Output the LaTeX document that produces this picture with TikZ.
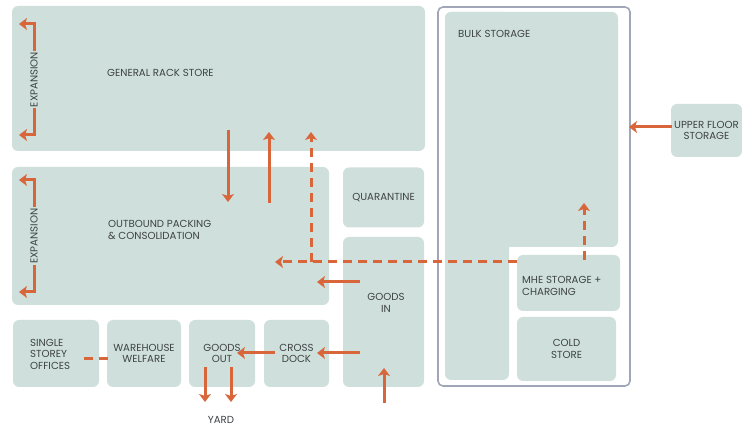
\documentclass[tikz,border=0pt]{standalone}
\usepackage{fontspec}
\setmainfont{Poppins}
\usetikzlibrary{arrows.meta, positioning, backgrounds}
\definecolor{zonefill}{RGB}{207,224,220}
\definecolor{flowred}{RGB}{217,101,58}
\definecolor{framegray}{RGB}{160,166,184}
\definecolor{labelgray}{RGB}{62,66,68}

\begin{document}
\begin{tikzpicture}[
    x = 1pt, y = -1pt,
    every node/.style = {font=\fontsize{10.2}{11.5}\selectfont, text=labelgray},
    zone/.style 2 args = {fill=zonefill, rounded corners=6pt, inner sep=0pt,
                          align=center, minimum width=#1, minimum height=#2},
    tag/.style        = {anchor=west, align=left, inner sep=0pt},
    flow/.style       = {-{Stealth[length=8pt, width=12pt, inset=2pt]},
                         flowred, line width=3pt},
    twoway/.style     = {flow, {Stealth[length=8pt, width=12pt, inset=2pt]}-{Stealth[length=8pt, width=12pt, inset=2pt]}},
    dflow/.style      = {flow, dash pattern=on 9pt off 6pt},
]
\useasboundingbox (0,0) rectangle (742,427);

% Main floor zones
\node[zone={413}{145}] (rack) at (218.5,78.5) {};
\node[tag] (rackT) at (107,73) {GENERAL RACK STORE};
\node[zone={317}{138}] (opc) at (170.5,236) {};
\node[tag] (opcT) at (108,230) {OUTBOUND PACKING\\\& CONSOLIDATION};
\node[zone={81}{60}] (quar) at (383.5,197.5) {QUARANTINE};
\node[zone={81}{150}] (gin) at (383.5,312) {};
\node[align=center, inner sep=0pt] (ginT) at (386,303) {GOODS\\IN};

% Bottom row
\node[zone={86}{67}] (offices) at (56,353.5) {};
\node[tag] (officesT) at (30,354) {SINGLE\\STOREY\\OFFICES};
\node[zone={74}{67}] (welfare) at (144,353.5) {WAREHOUSE\\WELFARE};
\node[zone={66}{67}] (gout) at (222,353.5) {GOODS\\OUT};
\node[zone={65}{67}] (xdock) at (296.5,353.5) {CROSS\\DOCK};
\node[inner sep=0pt] (yard) at (221,420) {YARD};

% High bay block
\node[draw=framegray, line width=1.6pt, rounded corners=5pt,
      minimum width=192, minimum height=379] (site) at (534,196.5) {};
\node[zone={173}{235}] (bulk) at (531.5,129.5) {};
\node[zone={64}{368}] (bulkleg) at (477,196) {};
\node[tag] (bulkT) at (458,34) {BULK STORAGE};
\node[zone={103}{56}] (mhe) at (568.5,283) {};
\node[tag] (mheT) at (522,286) {MHE STORAGE +\\CHARGING};
\node[zone={99}{64}] (cold) at (566.5,349) {COLD\\STORE};
\node[zone={71}{53}] (upper) at (706.5,130.5) {UPPER FLOOR\\STORAGE};

% Arrow end points
\coordinate (ex1a) at (19,24);   \coordinate (ex1b) at (34,24);
\coordinate (ex1c) at (34,135);  \coordinate (ex1d) at (19,135);
\coordinate (ex2a) at (19,180);  \coordinate (ex2b) at (34,180);
\coordinate (ex2c) at (34,292);  \coordinate (ex2d) at (19,292);
\coordinate (dnS) at (228,130);  \coordinate (dnE) at (228,202);
\coordinate (upS) at (269,203);  \coordinate (upE) at (269,132);
\coordinate (mheW) at (517,262); \coordinate (opcE) at (275,262);
\coordinate (jn) at (311,262);   \coordinate (rackE) at (311,132);
\coordinate (mheN) at (584,260); \coordinate (bulkE) at (584,203);
\coordinate (ginA) at (360,282); \coordinate (opcF) at (317,282);
\coordinate (ginB) at (360,353); \coordinate (xdE) at (317,353);
\coordinate (xdS) at (275,353);  \coordinate (goE) at (237,353);
\coordinate (y1S) at (205,367);  \coordinate (y1E) at (205,402);
\coordinate (y2S) at (231,367);  \coordinate (y2E) at (231,402);
\coordinate (inS) at (384,403);  \coordinate (inE) at (384,368);
\coordinate (ofE) at (84,359);   \coordinate (weW) at (113,359);
\coordinate (upW) at (672,127);  \coordinate (siteE) at (629,127);

% Expansion
\draw[twoway] (ex1a) -- (ex1b) -- node[rotate=90, fill=zonefill, inner sep=1pt]{EXPANSION} (ex1c) -- (ex1d);
\draw[twoway] (ex2a) -- (ex2b) -- node[rotate=90, fill=zonefill, inner sep=1pt]{EXPANSION} (ex2c) -- (ex2d);

% Flows
\draw[flow] (dnS) -- (dnE);
\draw[flow] (upS) -- (upE);
\draw[dflow] (mheW) -- (opcE);
\draw[dflow] (jn) -- (rackE);
\draw[dflow] (mheN) -- (bulkE);
\draw[flow] (ginA) -- (opcF);
\draw[flow] (ginB) -- (xdE);
\draw[flow] (xdS) -- (goE);
\draw[flow] (y1S) -- (y1E);
\draw[flow] (y2S) -- (y2E);
\draw[flow] (inS) -- (inE);
\draw[dflow, -] (ofE) -- (weW);
\draw[flow] (upW) -- (siteE);

\end{tikzpicture}
\end{document}
